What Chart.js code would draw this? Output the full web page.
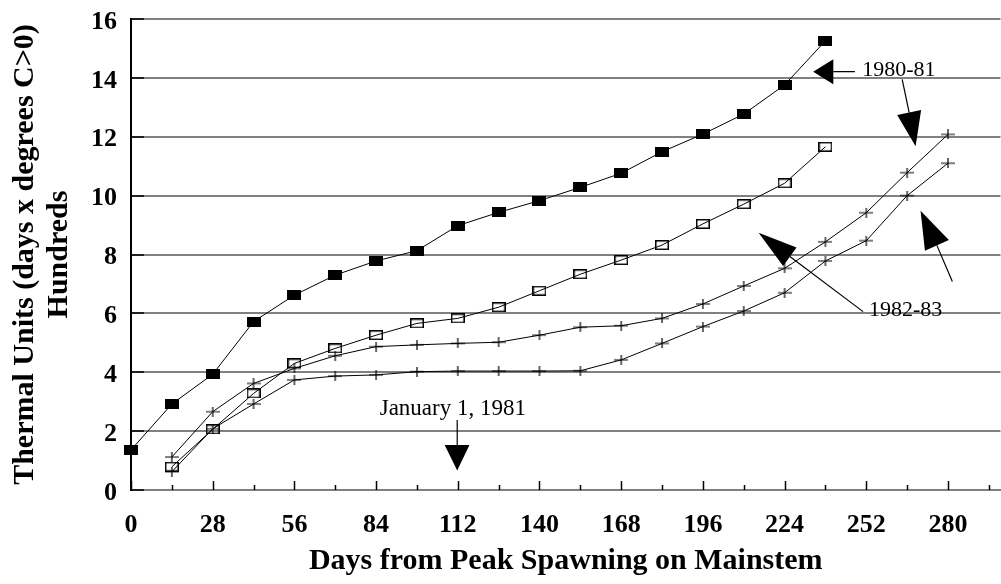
<!DOCTYPE html>
<html><head><meta charset="utf-8">
<script src="https://cdn.jsdelivr.net/npm/chart.js@4.4.1/dist/chart.umd.min.js"></script>
<style>html,body{margin:0;padding:0;background:#fff;}</style>
</head><body>
<canvas id="c" width="1001" height="584"></canvas>
<script>
// ---- data ----
const daysFilled = [0,14,28,42,56,70,84,98,112,126,140,154,168,182,196,210,224,238];
const unitsFilled = [1.36,2.92,3.93,5.72,6.62,7.30,7.78,8.13,8.98,9.43,9.83,10.28,10.76,11.49,12.09,12.77,13.76,15.26];
const daysOpen = [14,28,42,56,70,84,98,112,126,140,154,168,182,196,210,224,238];
const unitsOpen = [0.79,2.06,3.28,4.30,4.81,5.26,5.66,5.83,6.21,6.77,7.33,7.81,8.32,9.04,9.71,10.42,11.66];
const daysPlus = [14,28,42,56,70,84,98,112,126,140,154,168,182,196,210,224,238,252,266,280];
const unitsPlusUpper = [1.12,2.66,3.62,4.13,4.56,4.87,4.93,4.98,5.02,5.26,5.53,5.58,5.83,6.32,6.93,7.53,8.43,9.42,10.78,12.08];
const unitsPlusLower = [0.62,2.08,2.92,3.74,3.87,3.91,4.02,4.04,4.04,4.04,4.05,4.42,4.98,5.55,6.08,6.70,7.78,8.47,10.00,11.10];
const xTickLabels = [0,28,56,84,112,140,168,196,224,252,280];
const xMinorTicks = [0,14,28,42,56,70,84,98,112,126,140,154,168,182,196,210,224,238,252,266,280,294];
const yTickLabels = [0,2,4,6,8,10,12,14,16];
const xTitle = 'Days from Peak Spawning on Mainstem';
const yTitle = ['Thermal Units (days x degrees C>0)','Hundreds'];

// annotations (data units)
const noteJan = {text:'January 1, 1981', at:[110.3,2.55], align:'center', size:23};
const note80 = {text:'1980-81', at:[250.6,14.06], align:'left', size:22};
const note82 = {text:'1982-83', at:[252.9,5.91], align:'left', size:22};
const arrowLines = [
  [[111.8,2.38],[111.8,1.53]],
  [[248.1,14.21],[240.7,14.21]],
  [[264.3,13.95],[266.7,12.82]],
  [[250.9,6.06],[225.8,7.93]],
  [[281.5,7.08],[276.2,8.31]]
];
const arrowHeads = [
  [[107.5,1.53],[116.0,1.53],[111.8,0.66]],
  [[240.7,14.63],[240.7,13.78],[233.8,14.21]],
  [[262.6,12.74],[270.8,12.91],[268.9,11.68]],
  [[228.1,8.24],[223.5,7.61],[215.1,8.74]],
  [[272.1,8.13],[280.3,8.49],[270.6,9.49]]
];

// ---- marker images ----
function mk(w,h,draw){const c=document.createElement('canvas');c.width=w;c.height=h;const g=c.getContext('2d');draw(g);return c;}
const filledRect = mk(14,10,g=>{g.fillStyle='#000';g.fillRect(0,0,14,10);});
const openRect = mk(14,10,g=>{g.strokeStyle='#000';g.lineWidth=1.5;g.strokeRect(0.75,0.75,12.5,8.5);});
const plusMark = mk(14,10,g=>{g.strokeStyle='#000';g.lineWidth=1.2;g.beginPath();g.moveTo(0,5);g.lineTo(14,5);g.moveTo(7,0);g.lineTo(7,10);g.stroke();});

const pts = (xs,ys)=>xs.map((d,i)=>({x:d,y:ys[i]}));
const ds = (data,img)=>({data, borderColor:'#000', borderWidth:1, pointStyle:img, pointRadius:0.5, pointHoverRadius:0.5, pointBorderWidth:0, pointHitRadius:0, fill:false, tension:0, clip:false});

const SERIF = "'Liberation Serif', 'Times New Roman', serif";

const extras = {
  id:'extras',
  afterDatasetsDraw(chart){
    const {ctx, chartArea:a, scales:{x,y}} = chart;
    const X=v=>x.getPixelForValue(v), Y=v=>y.getPixelForValue(v);
    ctx.save();
    // inward tick marks
    ctx.strokeStyle='#000'; ctx.lineWidth=1.5; ctx.beginPath();
    yTickLabels.forEach(v=>{const py=Math.round(Y(v));ctx.moveTo(a.left,py);ctx.lineTo(a.left+13,py);});
    xMinorTicks.forEach(v=>{const px=Math.round(X(v))+0.5;const len=(v%28===0)?9:5;ctx.moveTo(px,a.bottom);ctx.lineTo(px,a.bottom-len);});
    ctx.stroke();
    // arrows
    ctx.lineWidth=1.2; ctx.beginPath();
    arrowLines.forEach(l=>{ctx.moveTo(X(l[0][0]),Y(l[0][1]));ctx.lineTo(X(l[1][0]),Y(l[1][1]));});
    ctx.stroke();
    ctx.fillStyle='#000';
    arrowHeads.forEach(t=>{ctx.beginPath();ctx.moveTo(X(t[0][0]),Y(t[0][1]));ctx.lineTo(X(t[1][0]),Y(t[1][1]));ctx.lineTo(X(t[2][0]),Y(t[2][1]));ctx.closePath();ctx.fill();});
    // notes
    ctx.textBaseline='alphabetic';
    [noteJan,note80,note82].forEach(n=>{ctx.font=n.size+'px '+SERIF;ctx.textAlign=n.align;ctx.fillText(n.text,X(n.at[0]),Y(n.at[1]));});
    ctx.restore();
  }
};

new Chart(document.getElementById('c'), {
  type:'line',
  data:{datasets:[
    ds(pts(daysFilled,unitsFilled),filledRect),
    ds(pts(daysOpen,unitsOpen),openRect),
    ds(pts(daysPlus,unitsPlusUpper),plusMark),
    ds(pts(daysPlus,unitsPlusLower),plusMark)
  ]},
  options:{
    responsive:false, animation:false, events:[],
    layout:{padding:{left:7,top:19,right:0,bottom:0}},
    plugins:{legend:{display:false},tooltip:{enabled:false}},
    scales:{
      x:{type:'linear', min:0, max:298,
        afterBuildTicks:s=>{s.ticks=xTickLabels.map(v=>({value:v}));},
        afterFit:s=>{s.height=94;s.paddingLeft=0;s.paddingRight=0;},
        grid:{display:false, drawTicks:false},
        border:{display:true,color:'#808080',width:2},
        ticks:{color:'#000',padding:20,font:{family:SERIF,size:26,weight:'bold'},maxRotation:0,autoSkip:false},
        title:{display:true,text:xTitle,color:'#000',font:{family:SERIF,size:30,weight:'bold',lineHeight:1.13},padding:{top:0,bottom:6}}
      },
      y:{type:'linear', min:0, max:16,
        afterBuildTicks:s=>{s.ticks=yTickLabels.map(v=>({value:v}));},
        afterFit:s=>{s.width=124;s.paddingTop=0;s.paddingBottom=0;},
        grid:{color:'#808080',lineWidth:2,drawTicks:false},
        border:{display:true,color:'#000',width:2},
        ticks:{color:'#000',padding:14,labelOffset:3,font:{family:SERIF,size:26,weight:'bold'}},
        title:{display:true,text:yTitle,color:'#000',font:{family:SERIF,size:30,weight:'bold',lineHeight:1.13},padding:{top:1,bottom:0}}
      }
    }
  },
  plugins:[extras]
});
</script>
</body></html>
